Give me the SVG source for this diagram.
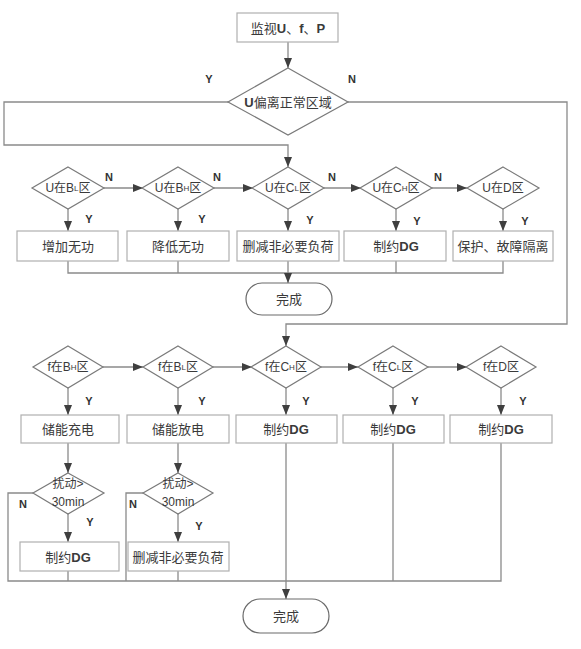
<svg xmlns="http://www.w3.org/2000/svg" width="581" height="649" viewBox="0 0 581 649">
<style>
text{font-family:"Liberation Sans","Noto Sans CJK SC",sans-serif;fill:#3a3a3a;text-anchor:middle;dominant-baseline:central}
.t{font-size:13px}
.d{font-size:12px}
.s{font-size:8px}
.b{font-weight:bold}
.lbl{font-size:11px;font-weight:bold;fill:#333}
.box{fill:#fff;stroke:#b0b0b0;stroke-width:1.2}
.dia{fill:#fff;stroke:#7a7a7a;stroke-width:1.2}
.ov{fill:#fff;stroke:#6a6a6a;stroke-width:1.2}
.c{fill:none;stroke:#8a8a8a;stroke-width:1.3}
.a{marker-end:url(#ah)}
</style>
<defs>
<marker id="ah" markerUnits="userSpaceOnUse" markerWidth="10" markerHeight="10" viewBox="0 0 10 10" refX="10" refY="5" orient="auto">
<path d="M0,1 L10,5 L0,9 Z" fill="#3f3f3f"/>
</marker>
</defs>
<rect width="581" height="649" fill="#fff"/>

<g id="connectors">
<path class="c a" d="M288,42 V68"/>
<path class="c a" d="M228,102 H4 V145 H288 V167"/>
<path class="c a" d="M348,102 H567 V324 H286 V346"/>
<path class="c a" d="M104,188 H143"/>
<path class="c a" d="M214,188 H253"/>
<path class="c a" d="M324,188 H361"/>
<path class="c a" d="M432,188 H467"/>
<path class="c a" d="M68,209 V231"/>
<path class="c a" d="M178,209 V231"/>
<path class="c a" d="M288,209 V231"/>
<path class="c a" d="M396,209 V231"/>
<path class="c a" d="M503,209 V231"/>
<path class="c" d="M68,261 V273 H503 V261"/>
<path class="c" d="M178,261 V273"/>
<path class="c" d="M396,261 V273"/>
<path class="c a" d="M288,261 V283"/>
<path class="c a" d="M103,367 H143"/>
<path class="c a" d="M213,367 H252"/>
<path class="c a" d="M321,367 H358"/>
<path class="c a" d="M428,367 H467"/>
<path class="c a" d="M68,388 V415"/>
<path class="c a" d="M178,388 V415"/>
<path class="c a" d="M286,388 V415"/>
<path class="c a" d="M393,388 V415"/>
<path class="c a" d="M501,388 V415"/>
<path class="c a" d="M68,443 V473"/>
<path class="c a" d="M178,443 V473"/>
<path class="c a" d="M68,514 V542"/>
<path class="c a" d="M178,514 V542"/>
<path class="c" d="M33,493 H8 V581 H501 V443"/>
<path class="c" d="M143,493 H126 V581"/>
<path class="c" d="M68,571 V581"/>
<path class="c" d="M178,571 V581"/>
<path class="c" d="M393,443 V581"/>
<path class="c a" d="M286,443 V599"/>
<text class="lbl" x="209" y="79">Y</text>
<text class="lbl" x="352" y="79">N</text>
<text class="lbl" x="109" y="177">N</text>
<text class="lbl" x="217" y="177">N</text>
<text class="lbl" x="332" y="177">N</text>
<text class="lbl" x="438" y="177">N</text>
<text class="lbl" x="89" y="219">Y</text>
<text class="lbl" x="202" y="219">Y</text>
<text class="lbl" x="310" y="220">Y</text>
<text class="lbl" x="417" y="221">Y</text>
<text class="lbl" x="525" y="221">Y</text>
<text class="lbl" x="89" y="401">Y</text>
<text class="lbl" x="202" y="401">Y</text>
<text class="lbl" x="306" y="401">Y</text>
<text class="lbl" x="415" y="401">Y</text>
<text class="lbl" x="523" y="401">Y</text>
<text class="lbl" x="23" y="504">N</text>
<text class="lbl" x="133" y="504">N</text>
<text class="lbl" x="90" y="522">Y</text>
<text class="lbl" x="199" y="526">Y</text>
</g>

<g id="start">
<rect class="box" x="237" y="13" width="101" height="29"/>
<text class="t" x="288" y="28">监视<tspan class="b">U</tspan>、<tspan class="b">f</tspan>、<tspan class="b">P</tspan></text>
</g>
<g id="q-u">
<polygon class="dia" points="288,68 348,102 288,135 228,102"/>
<text class="t" x="288" y="102"><tspan class="b">U</tspan>偏离正常区域</text>
</g>

<g id="u-bl"><polygon class="dia" points="68,167 104,188 68,209 32,188"/><text class="d" x="68" y="188">U在B<tspan class="s">L</tspan>区</text></g>
<g id="u-bh"><polygon class="dia" points="178,167 214,188 178,209 142,188"/><text class="d" x="178" y="188">U在B<tspan class="s">H</tspan>区</text></g>
<g id="u-cl"><polygon class="dia" points="288,167 324,188 288,209 252,188"/><text class="d" x="288" y="188">U在C<tspan class="s">L</tspan>区</text></g>
<g id="u-ch"><polygon class="dia" points="396,167 432,188 396,209 360,188"/><text class="d" x="396" y="188">U在C<tspan class="s">H</tspan>区</text></g>
<g id="u-d"><polygon class="dia" points="503,167 539,188 503,209 467,188"/><text class="d" x="503" y="188">U在D区</text></g>

<g id="b1"><rect class="box" x="17" y="231" width="101" height="30"/><text class="t" x="68" y="246">增加无功</text></g>
<g id="b2"><rect class="box" x="127" y="231" width="102" height="30"/><text class="t" x="178" y="246">降低无功</text></g>
<g id="b3"><rect class="box" x="237" y="231" width="102" height="30"/><text class="t" x="288" y="246">删减非必要负荷</text></g>
<g id="b4"><rect class="box" x="344" y="231" width="102" height="30"/><text class="t" x="396" y="246">制约<tspan class="b">DG</tspan></text></g>
<g id="b5"><rect class="box" x="453" y="231" width="100" height="30"/><text class="t" x="503" y="246">保护、故障隔离</text></g>

<g id="done1"><rect class="ov" x="246" y="283" width="86" height="32" rx="16"/><text class="t" x="289" y="299">完成</text></g>

<g id="f-bh"><polygon class="dia" points="68,346 103,367 68,388 33,367"/><text class="d" x="68" y="367">f在B<tspan class="s">H</tspan>区</text></g>
<g id="f-bl"><polygon class="dia" points="178,346 213,367 178,388 143,367"/><text class="d" x="178" y="367">f在B<tspan class="s">L</tspan>区</text></g>
<g id="f-ch"><polygon class="dia" points="286,346 321,367 286,388 251,367"/><text class="d" x="286" y="367">f在C<tspan class="s">H</tspan>区</text></g>
<g id="f-cl"><polygon class="dia" points="393,346 428,367 393,388 358,367"/><text class="d" x="393" y="367">f在C<tspan class="s">L</tspan>区</text></g>
<g id="f-d"><polygon class="dia" points="501,346 536,367 501,388 466,367"/><text class="d" x="501" y="367">f在D区</text></g>

<g id="c1"><rect class="box" x="21" y="415" width="98" height="28"/><text class="t" x="68" y="429">储能充电</text></g>
<g id="c2"><rect class="box" x="127" y="415" width="102" height="28"/><text class="t" x="178" y="429">储能放电</text></g>
<g id="c3"><rect class="box" x="236" y="415" width="101" height="28"/><text class="t" x="286" y="429">制约<tspan class="b">DG</tspan></text></g>
<g id="c4"><rect class="box" x="343" y="415" width="101" height="28"/><text class="t" x="393" y="429">制约<tspan class="b">DG</tspan></text></g>
<g id="c5"><rect class="box" x="450" y="415" width="102" height="28"/><text class="t" x="501" y="429">制约<tspan class="b">DG</tspan></text></g>

<g id="q-t1"><polygon class="dia" points="68,473 104,493 68,514 33,493"/><text class="d" x="68" y="484">扰动&gt;</text><text class="d" x="68" y="502">30min</text></g>
<g id="q-t2"><polygon class="dia" points="178,473 213,493 178,514 143,493"/><text class="d" x="178" y="484">扰动&gt;</text><text class="d" x="178" y="502">30min</text></g>

<g id="e1"><rect class="box" x="20" y="542" width="99" height="29"/><text class="t" x="68" y="557">制约<tspan class="b">DG</tspan></text></g>
<g id="e2"><rect class="box" x="128" y="542" width="101" height="29"/><text class="t" x="178" y="557">删减非必要负荷</text></g>

<g id="done2"><rect class="ov" x="243" y="599" width="86" height="34" rx="17"/><text class="t" x="286" y="616">完成</text></g>
</svg>
